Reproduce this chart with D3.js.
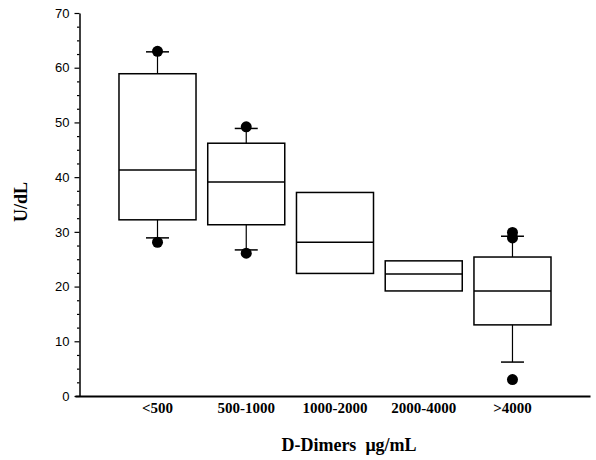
<!DOCTYPE html>
<html>
<head>
<meta charset="utf-8">
<script src="https://cdn.jsdelivr.net/npm/d3@7"></script>
<style>
  body { margin: 0; background: #fff; }
  svg { display: block; }
</style>
</head>
<body>
<svg id="chart" width="596" height="460"></svg>
<script>
// D-Dimer groups
const categories = ['<500', '500-1000', '1000-2000', '2000-4000', '>4000'];
const q1 = [32.2, 31.3, 22.4, 19.2, 13.0];
const median = [41.3, 39.1, 28.1, 22.3, 19.2];
const q3 = [58.9, 46.2, 37.2, 24.7, 25.4];
const whiskerLow = [28.9, 26.7, null, null, 6.2];
const whiskerHigh = [62.9, 48.9, null, null, 29.2];
const outliers = [[63.0, 28.1], [49.2, 26.1], [], [], [29.9, 28.9, 3.0]];
const yTicks = [0, 10, 20, 30, 40, 50, 60, 70];

const svg = d3.select('#chart');

const x = d3.scaleBand()
    .domain(categories)
    .range([75, 590])
    .paddingInner(0.132)
    .paddingOuter(0.4676)
    .align(0.53);

const y = d3.scaleLinear().domain([0, 70]).range([396, 13]);
const yAxisX = 79.5;

// minor ticks every 2.5
svg.append('g')
    .attr('transform', `translate(${yAxisX},0)`)
    .call(d3.axisLeft(y)
        .tickValues(d3.range(0, 70.01, 2.5).filter(v => v % 10 !== 0))
        .tickSize(2.5)
        .tickFormat(''))
    .call(g => g.select('.domain').remove())
    .call(g => g.selectAll('line').attr('stroke-width', 1.2));

const yAxis = svg.append('g')
    .attr('transform', `translate(${yAxisX},0)`)
    .call(d3.axisLeft(y).tickValues(yTicks).tickSize(5).tickSizeOuter(0).tickPadding(5));
yAxis.select('.domain').attr('stroke-width', 1.5);
yAxis.selectAll('line').attr('stroke-width', 1.2);
yAxis.selectAll('text')
    .attr('font-family', 'Liberation Sans, Arial, sans-serif')
    .attr('font-size', 13)
    .attr('fill', '#000');

const xAxis = svg.append('g')
    .attr('transform', `translate(0,${y(0)})`)
    .call(d3.axisBottom(x).tickSize(0).tickSizeOuter(0).tickPadding(6));
xAxis.select('.domain').attr('stroke-width', 2.2);
xAxis.selectAll('text')
    .attr('font-family', 'Liberation Serif, Times New Roman, serif')
    .attr('font-weight', 'bold')
    .attr('font-size', 15)
    .attr('fill', '#000');

const groups = svg.append('g')
    .selectAll('g.box')
    .data(categories)
    .join('g')
    .attr('class', 'box');

const bw = x.bandwidth();
const capW = 11.5;

// whiskers
groups.each(function (c, i) {
    const g = d3.select(this);
    const cx = x(c) + bw / 2;
    if (whiskerHigh[i] != null) {
        g.append('line').attr('x1', cx).attr('x2', cx)
            .attr('y1', y(q3[i])).attr('y2', y(whiskerHigh[i]))
            .attr('stroke', '#000').attr('stroke-width', 1.2);
        g.append('line').attr('x1', cx - capW).attr('x2', cx + capW)
            .attr('y1', y(whiskerHigh[i])).attr('y2', y(whiskerHigh[i]))
            .attr('stroke', '#000').attr('stroke-width', 1.5);
    }
    if (whiskerLow[i] != null) {
        g.append('line').attr('x1', cx).attr('x2', cx)
            .attr('y1', y(q1[i])).attr('y2', y(whiskerLow[i]))
            .attr('stroke', '#000').attr('stroke-width', 1.2);
        g.append('line').attr('x1', cx - capW).attr('x2', cx + capW)
            .attr('y1', y(whiskerLow[i])).attr('y2', y(whiskerLow[i]))
            .attr('stroke', '#000').attr('stroke-width', 1.5);
    }
});

groups.append('rect')
    .attr('x', c => x(c))
    .attr('width', bw)
    .attr('y', (c, i) => y(q3[i]))
    .attr('height', (c, i) => y(q1[i]) - y(q3[i]))
    .attr('fill', 'none')
    .attr('stroke', '#000')
    .attr('stroke-width', 1.5);

groups.append('line')
    .attr('x1', c => x(c))
    .attr('x2', c => x(c) + bw)
    .attr('y1', (c, i) => y(median[i]))
    .attr('y2', (c, i) => y(median[i]))
    .attr('stroke', '#000')
    .attr('stroke-width', 1.5);

groups.selectAll('circle')
    .data((c, i) => outliers[i].map(v => ({ c, v })))
    .join('circle')
    .attr('cx', d => x(d.c) + bw / 2)
    .attr('cy', d => y(d.v))
    .attr('r', 5.5)
    .attr('fill', '#000');

// axis titles
svg.append('text')
    .attr('transform', 'translate(27,202) rotate(-90)')
    .attr('text-anchor', 'middle')
    .attr('font-family', 'Liberation Serif, Times New Roman, serif')
    .attr('font-weight', 'bold')
    .attr('font-size', 18)
    .text('U/dL');

svg.append('text')
    .attr('x', 349)
    .attr('y', 451)
    .attr('text-anchor', 'middle')
    .attr('font-family', 'Liberation Serif, Times New Roman, serif')
    .attr('font-weight', 'bold')
    .attr('font-size', 18)
    .style('white-space', 'pre')
    .text('D-Dimers  \u03bcg/mL');
</script>
</body>
</html>
